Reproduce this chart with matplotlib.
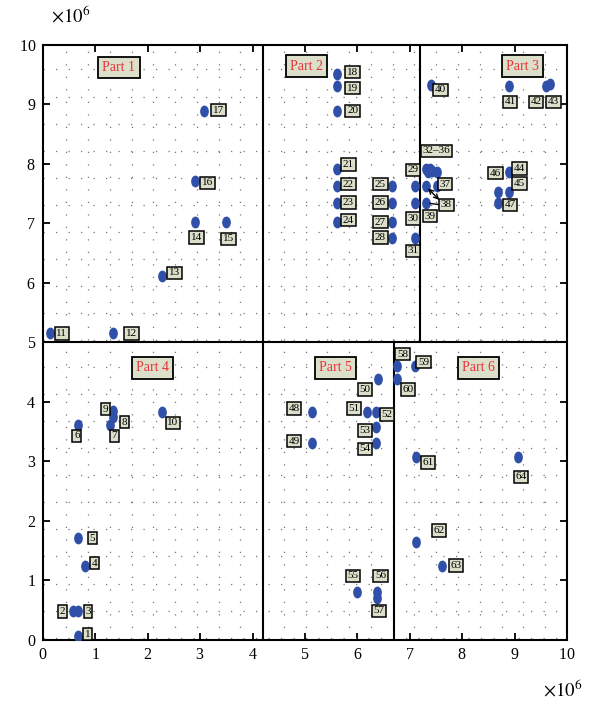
import numpy as np
import matplotlib
matplotlib.use("Agg")
import matplotlib.pyplot as plt
from matplotlib.path import Path
from matplotlib.ticker import ScalarFormatter, FixedLocator

plt.rcParams['font.family'] = ['Liberation Serif', 'DejaVu Serif']
plt.rcParams['mathtext.fontset'] = 'stix'

# node positions (x1e6)
node_x = [0.67, 0.58, 0.67, 0.81, 0.67, 0.67, 1.29, 1.34, 1.34, 2.28,
          0.13, 1.34, 2.28, 2.91, 3.49, 2.91, 3.08, 5.61, 5.61, 5.61,
          5.61, 5.61, 5.61, 5.61, 6.67, 6.67, 6.67, 6.67, 7.10, 7.10,
          7.10, 7.30, 7.34, 7.38, 7.42, 7.51, 7.51, 7.31, 7.31, 7.40,
          8.89, 9.59, 9.68, 8.89, 8.89, 8.68, 8.68, 5.14, 5.14, 6.39,
          6.19, 6.35, 6.35, 6.35, 6.00, 6.37, 6.37, 6.75, 7.10, 6.75,
          7.12, 7.12, 7.62, 9.06]
node_y = [0.07, 0.48, 0.48, 1.25, 1.72, 3.62, 3.62, 3.75, 3.84, 3.83,
          5.15, 5.15, 6.12, 7.02, 7.02, 7.71, 8.88, 9.50, 9.31, 8.88,
          7.92, 7.63, 7.34, 7.02, 7.63, 7.34, 7.02, 6.76, 7.63, 7.34,
          6.76, 7.92, 7.87, 7.92, 7.88, 7.86, 7.63, 7.63, 7.34, 9.32,
          9.31, 9.31, 9.34, 7.86, 7.53, 7.53, 7.34, 3.83, 3.31, 4.38,
          3.83, 3.83, 3.58, 3.31, 0.80, 0.80, 0.70, 4.61, 4.61, 4.38,
          3.08, 1.65, 1.25, 3.08]

# node number labels
label_text = ['1', '2', '3', '4', '5', '6', '7', '8', '9', '10',
              '11', '12', '13', '14', '15', '16', '17', '18', '19', '20',
              '21', '22', '23', '24', '25', '26', '27', '28', '29', '30',
              '31', '32–36', '37', '38', '39', '40', '41', '42', '43', '44',
              '45', '46', '47', '48', '49', '50', '51', '52', '53', '54',
              '55', '56', '57', '58', '59', '60', '61', '62', '63', '64']
label_x = [0.86, 0.37, 0.86, 0.99, 0.94, 0.65, 1.36, 1.55, 1.20, 2.48,
           0.36, 1.69, 2.51, 2.93, 3.54, 3.14, 3.35, 5.91, 5.91, 5.91,
           5.83, 5.83, 5.83, 5.83, 6.44, 6.44, 6.44, 6.44, 7.06, 7.06,
           7.06, 7.51, 7.67, 7.70, 7.39, 7.59, 8.91, 9.41, 9.74, 9.09,
           9.09, 8.63, 8.91, 4.79, 4.79, 6.15, 5.94, 6.56, 6.15, 6.15,
           5.92, 6.44, 6.41, 6.86, 7.26, 6.97, 7.35, 7.56, 7.88, 9.12]
label_y = [0.10, 0.48, 0.48, 1.29, 1.71, 3.43, 3.43, 3.66, 3.88, 3.65,
           5.15, 5.15, 6.17, 6.76, 6.74, 7.68, 8.90, 9.54, 9.27, 8.89,
           7.99, 7.66, 7.35, 7.05, 7.66, 7.35, 7.02, 6.76, 7.90, 7.08,
           6.54, 8.22, 7.66, 7.31, 7.12, 9.24, 9.04, 9.04, 9.04, 7.92,
           7.67, 7.84, 7.31, 3.89, 3.34, 4.21, 3.89, 3.79, 3.52, 3.21,
           1.08, 1.08, 0.49, 4.80, 4.67, 4.21, 2.98, 1.84, 1.25, 2.74]

part_names = ['Part 1', 'Part 2', 'Part 3', 'Part 4', 'Part 5', 'Part 6']
part_x = [1.45, 5.03, 9.15, 2.09, 5.59, 8.31]
part_y = [9.62, 9.64, 9.64, 4.57, 4.57, 4.57]

# partition borders: (x0, x1, y0, y1)
borders = [(4.2, 4.2, 0, 10), (0, 10, 5, 5), (7.2, 7.2, 5, 10), (6.7, 6.7, 0, 5)]

scale = 1e6

fig = plt.figure(figsize=(5.95, 7.02), dpi=100)
ax = fig.add_axes([0.072, 0.0883, 0.881, 0.848])

# background dotted lattice
ax.xaxis.set_minor_locator(FixedLocator(np.arange(0.45, 10, 0.415) * scale))
ax.yaxis.set_minor_locator(FixedLocator(np.arange(0.04, 10, 0.4545) * scale))
ax.grid(which='minor', color='#777777', lw=0.9, linestyle=(0, (1, 9)))
ax.tick_params(which='minor', length=0)

for x0, x1, y0, y1 in borders:
    ax.plot([x0 * scale, x1 * scale], [y0 * scale, y1 * scale], color='black', lw=1.5, zorder=3)

circ = Path.unit_circle()
ellipse = Path(circ.vertices * np.array([0.7, 1.0]), circ.codes)
ax.plot(np.array(node_x) * scale, np.array(node_y) * scale, linestyle='none',
        marker=ellipse, markersize=7.5, color='#2f4fa8', zorder=4)

box = dict(boxstyle='square,pad=0.15', fc='#dcdfca', ec='black', lw=1.1)
for t, x, y in zip(label_text, label_x, label_y):
    ax.text(x * scale, y * scale, t, fontsize=8, ha='center', va='center',
            bbox=box, zorder=5)

# arrows from label 38
ax.annotate('', xy=(7.31 * scale, 7.62 * scale), xytext=(7.6 * scale, 7.36 * scale),
            arrowprops=dict(arrowstyle='<->', color='black', lw=1.0, mutation_scale=8), zorder=5)
ax.annotate('', xy=(7.33 * scale, 7.34 * scale), xytext=(7.6 * scale, 7.31 * scale),
            arrowprops=dict(arrowstyle='-', color='black', lw=1.0), zorder=5)

pbox = dict(boxstyle='square,pad=0.3', fc='#dcdfca', ec='black', lw=1.3)
for t, x, y in zip(part_names, part_x, part_y):
    ax.text(x * scale, y * scale, t, fontsize=10, color='#e8343a', ha='center',
            va='center', bbox=pbox, zorder=5)

ax.set_xlim(0, 10 * scale)
ax.set_ylim(0, 10 * scale)
ax.set_xticks(np.arange(0, 11) * scale)
ax.set_yticks(np.arange(0, 11) * scale)
for a in (ax.xaxis, ax.yaxis):
    fmt = ScalarFormatter(useMathText=True)
    fmt.set_powerlimits((6, 6))
    a.set_major_formatter(fmt)
    a.get_offset_text().set_visible(False)
ax.tick_params(which='major', direction='in', length=5, width=1.3,
               top=True, right=True, labelsize=11.5, pad=5)
for s in ax.spines.values():
    s.set_linewidth(1.5)

fig.text(0.118, 0.978, r'$\times10^{6}$', fontsize=13.5, ha='center', va='center')
fig.text(0.945, 0.017, r'$\times10^{6}$', fontsize=13.5, ha='center', va='center')

fig.savefig('out.png', dpi=100)
